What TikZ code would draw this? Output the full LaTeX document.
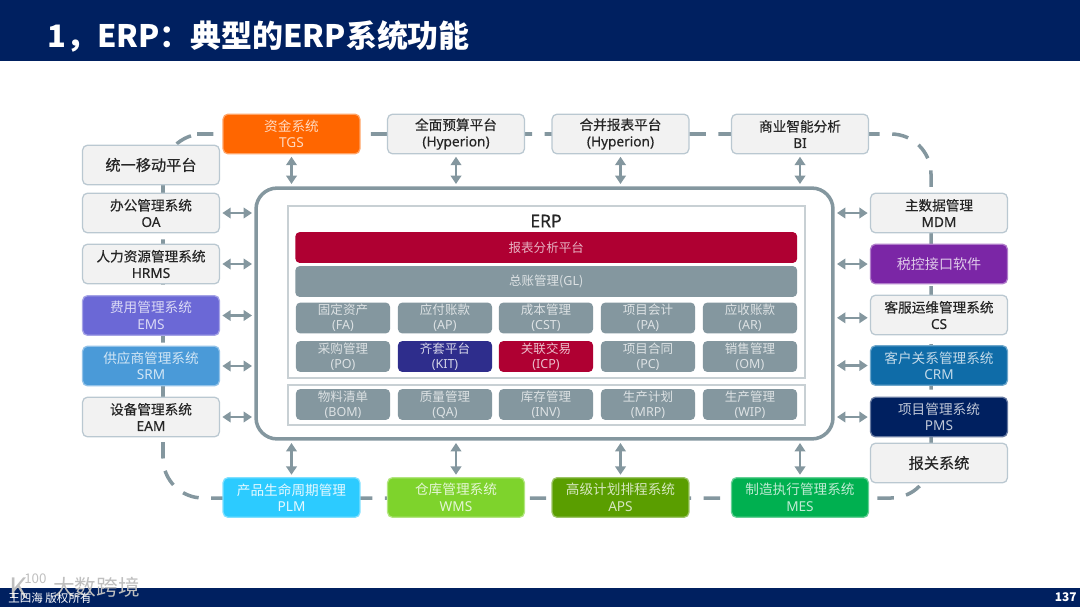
\documentclass[tikz,border=0pt]{standalone}
\usepackage{fontspec}
\setmainfont{Noto Sans CJK SC}
\newfontfamily\medfont{Noto Sans CJK SC}[FakeBold=0.35]
\newfontfamily\latfont{Noto Sans}
\newfontfamily\latmed{Noto Sans}[FakeBold=0.35]
\newcommand{\en}[1]{{\latfont #1}}
\newcommand{\enm}[1]{{\latmed #1}}
\usepackage{xcolor}
\definecolor{erpnavy}{HTML}{002060}
\definecolor{erpgray}{HTML}{84979F}
\definecolor{erpedge}{HTML}{BAC8D1}
\definecolor{erpred}{HTML}{AF0032}
\definecolor{erpkit}{HTML}{2E2D8C}
\definecolor{erporange}{HTML}{FF6600}
\definecolor{erpviolet}{HTML}{6B68D6}
\definecolor{erpsky}{HTML}{4A9AD8}
\definecolor{erptax}{HTML}{7B26A6}
\definecolor{erpcrm}{HTML}{0F6CA8}
\definecolor{erpcyan}{HTML}{2CCBFF}
\definecolor{erplime}{HTML}{7ED32C}
\definecolor{erpolive}{HTML}{5A9E00}
\definecolor{erpgreen}{HTML}{00B050}
\usetikzlibrary{arrows.meta,positioning,calc}

\begin{document}
\begin{tikzpicture}[x=0.025cm,y=-0.025cm,
  sysbox/.style={draw=erpedge,line width=0.9pt,fill=black!5,rounded corners=3.5pt,text=black!85,
    minimum width=3.42cm,minimum height=0.99cm,inner sep=0pt,align=center,
    font=\fontsize{9.7}{11.7}\selectfont\medfont},
  bigbox/.style={sysbox,font=\fontsize{10.8}{13}\selectfont\medfont},
  colbox/.style={sysbox,draw=#1!60!white,fill=#1,text=#1!25!white,
    font=\fontsize{9.7}{11.7}\selectfont\normalfont},
  modbox/.style={fill=erpgray,rounded corners=3pt,text=white!72!erpgray,
    minimum width=2.35cm,minimum height=0.77cm,inner sep=0pt,align=center,
    font=\fontsize{8.9}{10.7}\selectfont},
  widebar/.style={modbox,minimum width=12.54cm},
  frm/.style={draw=erpgray!45!white,line width=1pt,minimum width=12.92cm,inner sep=0pt},
  arr/.style={{Stealth[length=6pt,width=7.5pt,inset=0pt]}-{Stealth[length=6pt,width=7.5pt,inset=0pt]},
    line width=1.7pt,erpgray,shorten <=1.6pt,shorten >=1.6pt},
  ring/.style={erpgray,line width=2.5pt,dash pattern=on 11.7pt off 8.9pt,rounded corners=1cm}
]
  \useasboundingbox (0,0) rectangle (1080,607);

  % Header and footer bands
  \fill[erpnavy] (0,0) rectangle (1080,61);
  \fill[erpnavy] (0,588) rectangle (1080,607);
  \node[anchor=west,inner sep=0pt,text=white,font=\fontsize{22}{26}\selectfont\bfseries] (title) at (47,36) {1，ERP：典型的ERP系统功能};
  \node[anchor=east,inner sep=0pt,text=white,font=\fontsize{8.5}{10}\selectfont\bfseries] (pageno) at (1077,597) {137};

  % Dashed ring behind the satellite systems
  \coordinate (ringstart) at (197,134);
  \coordinate (ringne) at (931,134);
  \coordinate (ringse) at (931,498);
  \coordinate (ringsw) at (163,498);
  \coordinate (ringnw) at (163,134);
  \draw[ring] (ringstart) -- (ringne) -- (ringse) -- (ringsw) -- (ringnw) -- (ringstart);

  % ERP frame
  \node[draw=erpgray,line width=2.5pt,fill=white,rounded corners=15pt,minimum width=14.42cm,minimum height=6.27cm,inner sep=0pt] (erp) at (544.5,313.5) {};
  \node[frm,minimum height=4.3cm] (finframe) at (546.5,292) {};
  \node[frm,minimum height=1cm] (mfgframe) at (546.5,405) {};
  \node[inner sep=0pt,text=black!85,font=\fontsize{12.5}{14}\selectfont\medfont] (erptitle) at (546,221) {\enm{ERP}};

  % Bars
  \node[widebar,fill=erpred,text=white!70!erpred] (report) at (546.25,247.5) {报表分析平台};
  \node[widebar] (gl) at (546.25,281.5) {总账管理(\en{GL})};

  % Finance modules
  \node[modbox] (fa) at (343,318) {固定资产\\\en{(FA)}};
  \node[modbox] (ap) at (445,318) {应付账款\\\en{(AP)}};
  \node[modbox] (cst) at (546,318) {成本管理\\\en{(CST)}};
  \node[modbox] (pa) at (648,318) {项目会计\\\en{(PA)}};
  \node[modbox] (ar) at (750,318) {应收账款\\\en{(AR)}};
  \node[modbox] (po) at (343,356.5) {采购管理\\\en{(PO)}};
  \node[modbox,fill=erpkit,text=white!80!erpkit] (kit) at (445,356.5) {齐套平台\\\en{(KIT)}};
  \node[modbox,fill=erpred,text=white!75!erpred] (icp) at (546,356.5) {关联交易\\\en{(ICP)}};
  \node[modbox] (pc) at (648,356.5) {项目合同\\\en{(PC)}};
  \node[modbox] (om) at (750,356.5) {销售管理\\\en{(OM)}};

  % Manufacturing modules
  \node[modbox] (bom) at (343,404.5) {物料清单\\\en{(BOM)}};
  \node[modbox] (qa) at (445,404.5) {质量管理\\\en{(QA)}};
  \node[modbox] (inv) at (546,404.5) {库存管理\\\en{(INV)}};
  \node[modbox] (mrp) at (648,404.5) {生产计划\\\en{(MRP)}};
  \node[modbox] (wip) at (750,404.5) {生产管理\\\en{(WIP)}};

  % Top row
  \node[colbox=erporange] (tgs) at (291.5,134) {资金系统\\\en{TGS}};
  \node[sysbox] (budget) at (456,134) {全面预算平台\\\enm{(Hyperion)}};
  \node[sysbox] (consol) at (620.5,134) {合并报表平台\\\enm{(Hyperion)}};
  \node[sysbox] (bi) at (800,134) {商业智能分析\\\enm{BI}};

  % Left column
  \node[bigbox] (mobile) at (151,165) {统一移动平台};
  \node[sysbox] (oa) at (151,213) {办公管理系统\\\enm{OA}};
  \node[sysbox] (hrms) at (151,264) {人力资源管理系统\\\enm{HRMS}};
  \node[colbox=erpviolet] (ems) at (151,315.5) {费用管理系统\\\en{EMS}};
  \node[colbox=erpsky] (srm) at (151,366) {供应商管理系统\\\en{SRM}};
  \node[sysbox] (eam) at (151,417) {设备管理系统\\\enm{EAM}};

  % Right column
  \node[sysbox] (mdm) at (939,213) {主数据管理\\\enm{MDM}};
  \node[colbox=erptax,font=\fontsize{10}{12}\selectfont] (tax) at (939,264) {税控接口软件};
  \node[sysbox] (cs) at (939,315) {客服运维管理系统\\\enm{CS}};
  \node[colbox=erpcrm] (crm) at (939,365.5) {客户关系管理系统\\\en{CRM}};
  \node[colbox=erpnavy] (pms) at (939,417) {项目管理系统\\\en{PMS}};
  \node[bigbox] (customs) at (939,463) {报关系统};

  % Bottom row
  \node[colbox=erpcyan,text=white!88!erpcyan] (plm) at (291.5,497.5) {产品生命周期管理\\\en{PLM}};
  \node[colbox=erplime,text=white!80!erplime] (wms) at (456,497.5) {仓库管理系统\\\en{WMS}};
  \node[colbox=erpolive] (aps) at (620.5,497.5) {高级计划排程系统\\\en{APS}};
  \node[colbox=erpgreen] (mes) at (800,497.5) {制造执行管理系统\\\en{MES}};

  % Arrows
  \draw[arr] (tgs.south) -- (tgs.south |- erp.north);
  \draw[arr] (budget.south) -- (budget.south |- erp.north);
  \draw[arr] (consol.south) -- (consol.south |- erp.north);
  \draw[arr] (bi.south) -- (bi.south |- erp.north);
  \draw[arr] (plm.north) -- (plm.north |- erp.south);
  \draw[arr] (wms.north) -- (wms.north |- erp.south);
  \draw[arr] (aps.north) -- (aps.north |- erp.south);
  \draw[arr] (mes.north) -- (mes.north |- erp.south);
  \draw[arr] (oa.east) -- (oa.east -| erp.west);
  \draw[arr] (hrms.east) -- (hrms.east -| erp.west);
  \draw[arr] (ems.east) -- (ems.east -| erp.west);
  \draw[arr] (srm.east) -- (srm.east -| erp.west);
  \draw[arr] (eam.east) -- (eam.east -| erp.west);
  \draw[arr] (mdm.west) -- (mdm.west -| erp.east);
  \draw[arr] (tax.west) -- (tax.west -| erp.east);
  \draw[arr] ([yshift=-2pt]cs.west) -- ([yshift=-2pt]cs.west -| erp.east);
  \draw[arr] (crm.west) -- (crm.west -| erp.east);
  \draw[arr] (pms.west) -- (pms.west -| erp.east);

  % Watermark
  \node[anchor=west,inner sep=0pt,text=black!25,font=\fontsize{15.4}{17}\selectfont] (wmname) at (53,587) {大数跨境};
  \node[anchor=west,inner sep=0pt,text=black!25,font=\fontsize{20}{22}\selectfont] (wmk) at (9,588) {K};
  \node[anchor=west,inner sep=0pt,text=black!25,font=\fontsize{9.5}{10}\selectfont] (wmnum) at (24,579) {100};
  \node[anchor=west,inner sep=0pt,text=white,font=\fontsize{8.2}{10}\selectfont] (owner) at (8,598) {王四海 版权所有};
\end{tikzpicture}
\end{document}
